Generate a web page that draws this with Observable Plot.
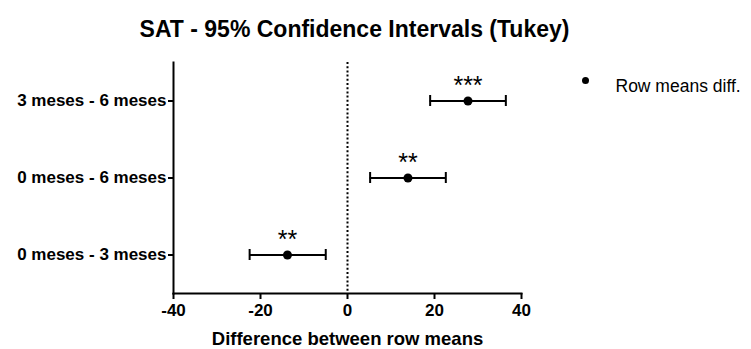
<!DOCTYPE html>
<html>
<head>
<meta charset="utf-8">
<script src="https://cdn.jsdelivr.net/npm/d3@7"></script>
<script src="https://cdn.jsdelivr.net/npm/@observablehq/plot@0.6"></script>
<style>
  html, body { margin: 0; padding: 0; background: #fff; }
  body { width: 751px; height: 349px; overflow: hidden; font-family: "Liberation Sans", Arial, sans-serif; }
  #title { height: 50px; width: 751px; box-sizing: border-box; padding-right: 42px; text-align: center;
           font-weight: bold; font-size: 23px; line-height: 58px; color: #000; white-space: nowrap; }
</style>
</head>
<body>
<div id="title">SAT - 95% Confidence Intervals (Tukey)</div>
<div id="chart"></div>
<script>
const comparisons = ["3 meses - 6 meses", "0 meses - 6 meses", "0 meses - 3 meses"];
const meanDiff = [27.7, 13.9, -13.8];
const lower = [19.0, 5.2, -22.5];
const upper = [36.4, 22.6, -5.0];
const significance = ["***", "**", "**"];
const xTicks = [-40, -20, 0, 20, 40];
const legendLabel = "Row means diff.";

const data = comparisons.map((c, i) => ({
  comp: c, mean: meanDiff[i], lo: lower[i], hi: upper[i], sig: significance[i]
}));

const chart = Plot.plot({
  width: 751,
  height: 299,
  marginLeft: 173,
  marginRight: 230,
  marginTop: 12,
  marginBottom: 56,
  style: { fontFamily: "Liberation Sans, Arial, sans-serif", color: "#000", background: "#fff", overflow: "visible" },
  x: { domain: [-40, 40] },
  y: { type: "band", domain: comparisons, padding: 0 },
  marks: [
    Plot.ruleX([0], { stroke: "#000", strokeWidth: 2, strokeDasharray: "2,2.2" }),
    Plot.frame({ anchor: "left", stroke: "#000", strokeWidth: 2 }),
    Plot.frame({ anchor: "bottom", stroke: "#000", strokeWidth: 2 }),
    Plot.axisX({ ticks: xTicks, tickFormat: d => String(d), tickSize: 6, tickPadding: 4, stroke: "#000", strokeWidth: 2,
      fontSize: 17, fontWeight: "bold", label: null }),
    Plot.axisX({ ticks: [], label: "Difference between row means", labelAnchor: "center", labelArrow: "none",
      labelOffset: 51, fontSize: 18.5, fontWeight: "bold" }),
    Plot.axisY({ tickSize: 5, tickPadding: 2, stroke: "#000", strokeWidth: 2, fontSize: 17, fontWeight: "bold", label: null }),
    Plot.ruleY(data, { y: "comp", x1: "lo", x2: "hi", stroke: "#000", strokeWidth: 2 }),
    Plot.tickX(data, { x: "lo", y: "comp", stroke: "#000", strokeWidth: 2, insetTop: 33, insetBottom: 33 }),
    Plot.tickX(data, { x: "hi", y: "comp", stroke: "#000", strokeWidth: 2, insetTop: 33, insetBottom: 33 }),
    Plot.dot(data, { x: "mean", y: "comp", r: 4.5, fill: "#000" }),
    Plot.text(data, { x: "mean", y: "comp", text: "sig", dy: -15, fontSize: 25, fill: "#000" }),
    Plot.dot([legendLabel], { frameAnchor: "top-right", dx: 64, dy: 18, r: 3.5, fill: "#000" }),
    Plot.text([legendLabel], { frameAnchor: "top-right", dx: 94, dy: 17, text: d => d, textAnchor: "start",
      fontSize: 17.5, fill: "#000" })
  ]
});
document.getElementById("chart").appendChild(chart);
</script>
</body>
</html>
